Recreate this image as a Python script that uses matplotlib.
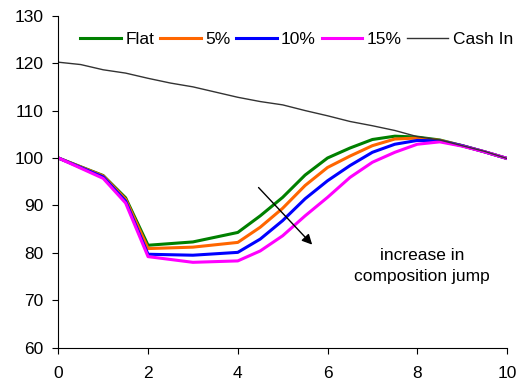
import matplotlib
matplotlib.use("Agg")
import matplotlib.pyplot as plt

x_curves = [0, 1, 1.5, 2, 3, 4, 4.5, 5, 5.5, 6, 6.5, 7, 7.5, 8, 8.5, 9, 9.5, 10]
flat =    [100, 96.3, 91.6, 81.6, 82.3, 84.3, 87.8, 91.7, 96.4, 100.0, 102.1, 103.9, 104.6, 104.4, 103.8, 102.6, 101.3, 99.9]
pct5 =    [100, 96.2, 91.3, 80.9, 81.2, 82.2, 85.4, 89.4, 94.2, 98.0, 100.4, 102.6, 104.0, 104.2, 103.7, 102.6, 101.3, 99.9]
pct10 =   [100, 96.0, 90.9, 79.7, 79.5, 80.1, 82.9, 86.8, 91.4, 95.2, 98.4, 101.2, 102.9, 103.7, 103.6, 102.6, 101.3, 99.9]
pct15 =   [100, 95.7, 90.5, 79.2, 78.0, 78.3, 80.4, 83.6, 87.8, 91.7, 95.9, 99.1, 101.2, 102.9, 103.4, 102.5, 101.3, 99.9]

x_cash = [0, 0.5, 1, 1.5, 2, 2.5, 3, 3.5, 4, 4.5, 5, 5.5, 6, 6.5, 7, 7.5, 8, 8.5, 9, 9.5, 10]
cash_in = [120.2, 119.7, 118.6, 117.9, 116.8, 115.8, 115.0, 113.9, 112.8, 111.9, 111.2, 110.0, 108.9, 107.7, 106.8, 105.8, 104.5, 103.8, 102.6, 101.4, 99.9]

labels = ["Flat", "5%", "10%", "15%", "Cash In"]
colors = ["#008000", "#FF6600", "#0000FF", "#FF00FF", "#333333"]

plt.rcParams['font.family'] = ['Liberation Sans', 'DejaVu Sans']
FS = 12.5

fig = plt.figure(figsize=(5.22, 3.89), dpi=100)
ax = fig.add_axes([0.1117, 0.1062, 0.8596, 0.8534])

series = [flat, pct5, pct10, pct15]
for ys, lab, c in zip(series, labels[:4], colors[:4]):
    ax.plot(x_curves, ys, color=c, lw=2.2, label=lab)
ax.plot(x_cash, cash_in, color=colors[4], lw=1.0, label=labels[4])

ax.set_xlim(0, 10)
ax.set_ylim(60, 130)
ax.set_xticks([0, 2, 4, 6, 8, 10])
ax.set_yticks(range(60, 131, 10))
for s in ["top", "right"]:
    ax.spines[s].set_visible(False)
for s in ["left", "bottom"]:
    ax.spines[s].set_linewidth(0.8)
ax.tick_params(direction='out', length=4.3, width=0.8, labelsize=FS, pad=6.5)
ax.tick_params(axis='x', pad=9)

ax.annotate("", xy=(5.70, 81.3), xytext=(4.42, 94.2),
            arrowprops=dict(arrowstyle="-|>", color="black", lw=1.0, mutation_scale=15))
ax.text(8.11, 77.2, "increase in\ncomposition jump", ha="center", va="center",
        fontsize=FS, linespacing=1.5)

leg = ax.legend(ncol=5, loc="center left", bbox_to_anchor=(80/522, 1 - 39.5/389),
                bbox_transform=fig.transFigure, frameon=False, handlelength=2.35,
                handletextpad=0.25, columnspacing=0.33, borderpad=0, borderaxespad=0,
                fontsize=FS)

fig.savefig("out.png", dpi=100)
